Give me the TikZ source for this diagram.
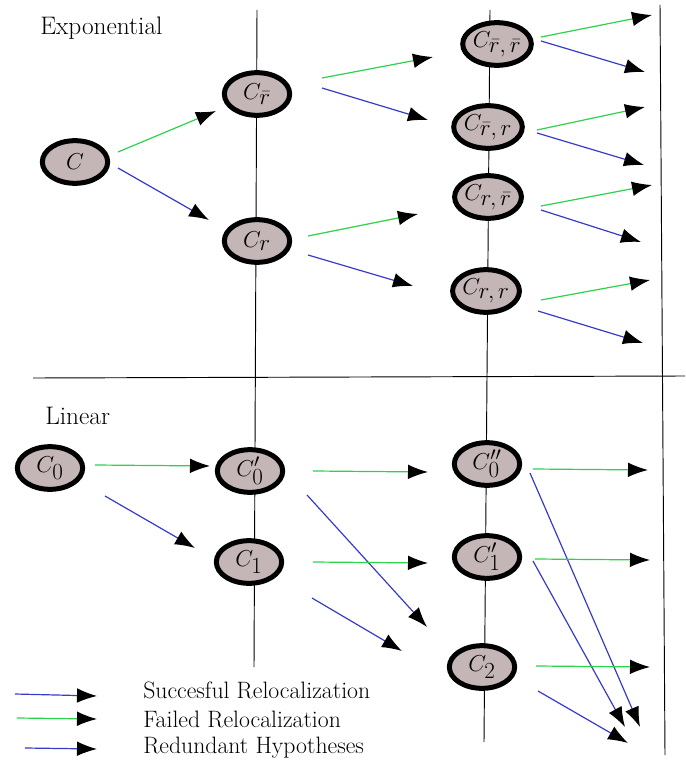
\documentclass[tikz,border=0pt]{standalone}
\usetikzlibrary{arrows.meta,shapes.geometric}
\definecolor{nodefill}{RGB}{196,182,182}
\definecolor{succ}{RGB}{55,60,200}
\definecolor{fail}{RGB}{45,210,75}
\newcommand\hsub[1]{_{\mbox{\fontsize{16}{16}\selectfont$#1$}}}
\begin{document}
\begin{tikzpicture}[x=0.75pt,y=-0.75pt,
  hyp/.style={ellipse,draw=black,line width=3.75pt,fill=nodefill,minimum width=49pt,minimum height=32pt,inner sep=0pt,font=\fontsize{19}{22}\selectfont},
  tipped/.style={-{Latex[length=15pt,width=11pt,color=black]}},
  okarrow/.style={tipped,draw=succ,line width=0.9pt},
  failarrow/.style={tipped,draw=fail,line width=0.9pt},
  axisline/.style={draw=black,line width=0.7pt},
  lbl/.style={font=\fontsize{19}{22}\selectfont,anchor=west,inner sep=0pt},
  leg/.style={font=\fontsize{17.8}{21}\selectfont,anchor=west,inner sep=0pt}]
\useasboundingbox (0,0) rectangle (685,763);

% axes
\coordinate (v1t) at (257,10); \coordinate (v1b) at (254,667);
\coordinate (v2t) at (490,10); \coordinate (v2b) at (484,742);
\coordinate (v3t) at (660,5);  \coordinate (v3b) at (665,755);
\coordinate (hl) at (33,378);  \coordinate (hr) at (685,376);
\draw[axisline] (v1t) -- (v1b);
\draw[axisline] (v2t) -- (v2b);
\draw[axisline] (v3t) -- (v3b);
\draw[axisline] (hl) -- (hr);

\node[lbl] (expo) at (40,28) {Exponential};
\node[lbl] (lin) at (45,416) {Linear};

% nodes exponential
\node[hyp] (C) at (75,162) {$C$};
\node[hyp] (Crb) at (257,94) {$C\hsub{\bar r}$};
\node[hyp] (Cr) at (257,241) {$C\hsub{r}$};
\node[hyp] (Crbrb) at (497,44) {$C\hsub{\bar r,\bar r}$};
\node[hyp] (Crbr) at (488,127) {$C\hsub{\bar r,r}$};
\node[hyp] (Crrb) at (488,197) {$C\hsub{r,\bar r}$};
\node[hyp] (Crr) at (486,291) {$C\hsub{r,r}$};

% nodes linear
\node[hyp] (C0) at (50,468) {$C\hsub{0}$};
\node[hyp] (C0p) at (250,471) {$C^{\prime}\hsub{0}$};
\node[hyp] (C1) at (249,562) {$C\hsub{1}$};
\node[hyp] (C0pp) at (487,464) {$C^{\prime\prime}\hsub{0}$};
\node[hyp] (C1p) at (487,557) {$C^{\prime}\hsub{1}$};
\node[hyp] (C2) at (482,667) {$C\hsub{2}$};

% arrows exponential
\coordinate (a1s) at (118,152); \coordinate (a1e) at (216,111);
\coordinate (b1s) at (118,168); \coordinate (b1e) at (209,220);
\draw[failarrow] (a1s) -- (a1e);
\draw[okarrow] (b1s) -- (b1e);

\coordinate (a2s) at (322,78); \coordinate (a2e) at (433,57);
\coordinate (b2s) at (322,88); \coordinate (b2e) at (428,120);
\draw[failarrow] (a2s) -- (a2e);
\draw[okarrow] (b2s) -- (b2e);

\coordinate (a3s) at (308,236); \coordinate (a3e) at (418,214);
\coordinate (b3s) at (308,255); \coordinate (b3e) at (413,286);
\draw[failarrow] (a3s) -- (a3e);
\draw[okarrow] (b3s) -- (b3e);

\coordinate (a4s) at (541,37); \coordinate (a4e) at (652,15);
\coordinate (b4s) at (541,41); \coordinate (b4e) at (645,72);
\draw[failarrow] (a4s) -- (a4e);
\draw[okarrow] (b4s) -- (b4e);

\coordinate (a5s) at (537,130); \coordinate (a5e) at (645,107);
\coordinate (b5s) at (537,133); \coordinate (b5e) at (644,165);
\draw[failarrow] (a5s) -- (a5e);
\draw[okarrow] (b5s) -- (b5e);

\coordinate (a6s) at (541,206); \coordinate (a6e) at (652,185);
\coordinate (b6s) at (541,210); \coordinate (b6e) at (641,242);
\draw[failarrow] (a6s) -- (a6e);
\draw[okarrow] (b6s) -- (b6e);

\coordinate (a7s) at (541,300); \coordinate (a7e) at (650,280);
\coordinate (b7s) at (538,311); \coordinate (b7e) at (643,343);
\draw[failarrow] (a7s) -- (a7e);
\draw[okarrow] (b7s) -- (b7e);

% arrows linear
\coordinate (c1s) at (95,465); \coordinate (c1e) at (210,466);
\coordinate (d1s) at (105,496); \coordinate (d1e) at (195,548);
\draw[failarrow] (c1s) -- (c1e);
\draw[okarrow] (d1s) -- (d1e);

\coordinate (c2s) at (313,471); \coordinate (c2e) at (428,472);
\coordinate (d2s) at (307,495); \coordinate (d2e) at (427,627);
\draw[failarrow] (c2s) -- (c2e);
\draw[okarrow] (d2s) -- (d2e);

\coordinate (c3s) at (313,562); \coordinate (c3e) at (428,563);
\coordinate (d3s) at (312,598); \coordinate (d3e) at (402,651);
\draw[failarrow] (c3s) -- (c3e);
\draw[okarrow] (d3s) -- (d3e);

\coordinate (c4s) at (533,469); \coordinate (c4e) at (648,470);
\coordinate (d4s) at (530,473); \coordinate (d4e) at (640,727);
\draw[failarrow] (c4s) -- (c4e);
\draw[okarrow] (d4s) -- (d4e);

\coordinate (c5s) at (535,559); \coordinate (c5e) at (650,560);
\coordinate (d5s) at (533,561); \coordinate (d5e) at (625,727);
\draw[failarrow] (c5s) -- (c5e);
\draw[okarrow] (d5s) -- (d5e);

\coordinate (c6s) at (536,666); \coordinate (c6e) at (650,667);
\coordinate (d6s) at (538,691); \coordinate (d6e) at (628,743);
\draw[failarrow] (c6s) -- (c6e);
\draw[okarrow] (d6s) -- (d6e);

% legend
\coordinate (l1s) at (15,694); \coordinate (l1e) at (97,696);
\coordinate (l2s) at (17,718); \coordinate (l2e) at (97,719);
\coordinate (l3s) at (25,748); \coordinate (l3e) at (97,749);
\draw[okarrow] (l1s) -- (l1e);
\draw[failarrow] (l2s) -- (l2e);
\draw[okarrow] (l3s) -- (l3e);
\node[leg] (t1) at (143,690) {Succesful Relocalization};
\node[leg] (t2) at (143,719) {Failed Relocalization};
\node[leg] (t3) at (143,748) {Redundant Hypotheses};
\end{tikzpicture}
\end{document}
